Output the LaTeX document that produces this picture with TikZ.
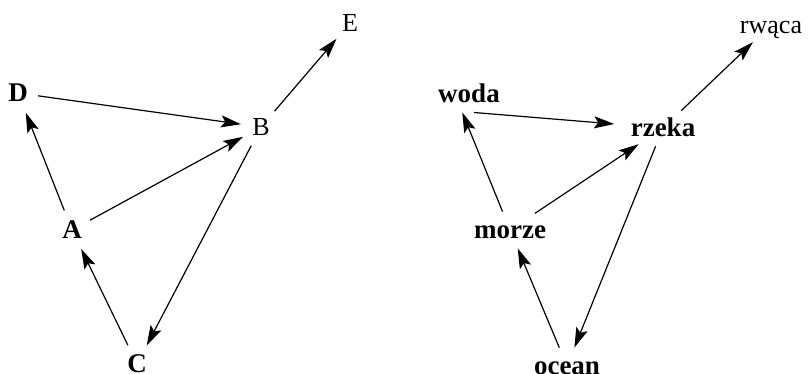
\documentclass[tikz,border=0pt]{standalone}
\usepackage{fontspec}
\setmainfont{Liberation Serif}
\usetikzlibrary{shapes.geometric}
\usetikzlibrary{arrows.meta}

\tikzset{
	word/.style={shape=ellipse, inner sep=3pt, text height=18pt, text depth=2pt,
		font=\fontsize{26}{30}\selectfont},
	bword/.style={word, font=\fontsize{27}{30}\selectfont\bfseries},
	letter/.style={minimum width=40pt, minimum height=42pt},
	link/.style={line width=1.2pt, -{Stealth[length=20pt,width=12pt,inset=4pt]}}
}

\begin{document}
\begin{tikzpicture}[x=1pt,y=-1pt]
		\useasboundingbox (0,0) rectangle (808,373);
		
		% left graph
		\node[bword,letter] (D) at (18,93) {D};
		\node[word,letter] (B) at (261,127) {B};
		\node[word,letter] (E) at (350,23) {E};
		\node[bword,letter] (A) at (72,230) {A};
		\node[bword,letter] (C) at (137,364) {C};
		
		\draw[link] (D) -- (B);
		\draw[link] (A) -- (D);
		\draw[link] (A) -- (B);
		\draw[link] (C) -- (A);
		\draw[link] (B) -- (C);
		\draw[link] (B) -- (E);
		
		% right graph
		\node[bword] (woda) at (469,94) {woda};
		\node[bword] (rzeka) at (663,128) {rzeka};
		\node[word] (rwaca) at (771,25) {rwąca};
		\node[bword] (morze) at (510,230) {morze};
		\node[bword] (ocean) at (567,366) {ocean};
		
		\draw[link] (woda.-75) -- (rzeka);
		\draw[link] (morze) -- (woda.250);
		\draw[link] (morze) -- (rzeka);
		\draw[link] (ocean) -- (morze);
		\draw[link] (rzeka) -- (ocean);
		\draw[link] (rzeka) -- (rwaca);
	\end{tikzpicture}
\end{document}
